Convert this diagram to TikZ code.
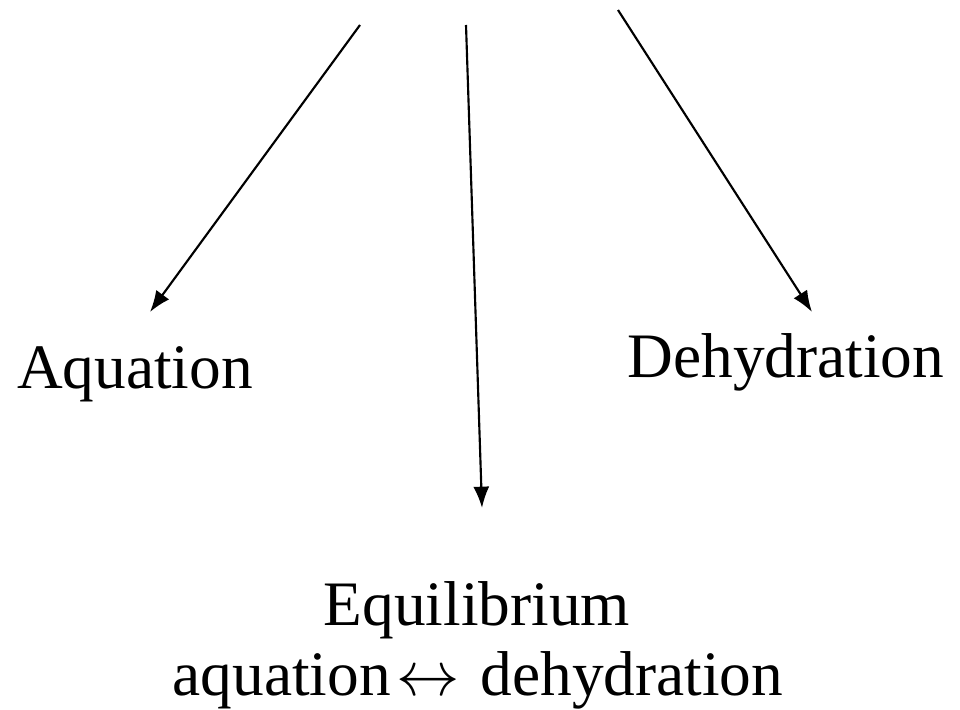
\RequirePackage{fix-cm}
\documentclass[tikz,border=0pt]{standalone}
\usepackage{fontspec}
\setmainfont{Liberation Serif}
\usetikzlibrary{arrows.meta,positioning}
\begin{document}
\begin{tikzpicture}[x=0.75pt, y=-0.75pt, >={Latex[length=16pt,width=12pt]},
  font=\fontsize{47.5}{57}\selectfont,
  lbl/.style={inner sep=0pt, anchor=base},
  reac/.style={->, line width=1.6pt}]
\useasboundingbox (0,0) rectangle (960,710);
% top ends of the three arrows
\coordinate (srcA) at (360,25);
\coordinate (srcE) at (466,25);
\coordinate (srcD) at (618,10);
\coordinate (tipA) at (150,312);
\coordinate (tipE) at (482,508);
\coordinate (tipD) at (812,312);
\node[lbl] (aqu) at (135,388) {Aquation};
\node[lbl] (dehyd) at (786,377) {Dehydration};
\node[lbl] (equi) at (477,625) {Equilibrium};
\node[lbl] (equi2) at (478,695)
  {aquation\hspace{4pt}$\leftrightarrow$\hspace{16pt}dehydration};
\draw[reac] (srcA) -- (tipA);
\draw[reac] (srcE) -- (tipE);
\draw[reac] (srcD) -- (tipD);
\end{tikzpicture}
\end{document}
